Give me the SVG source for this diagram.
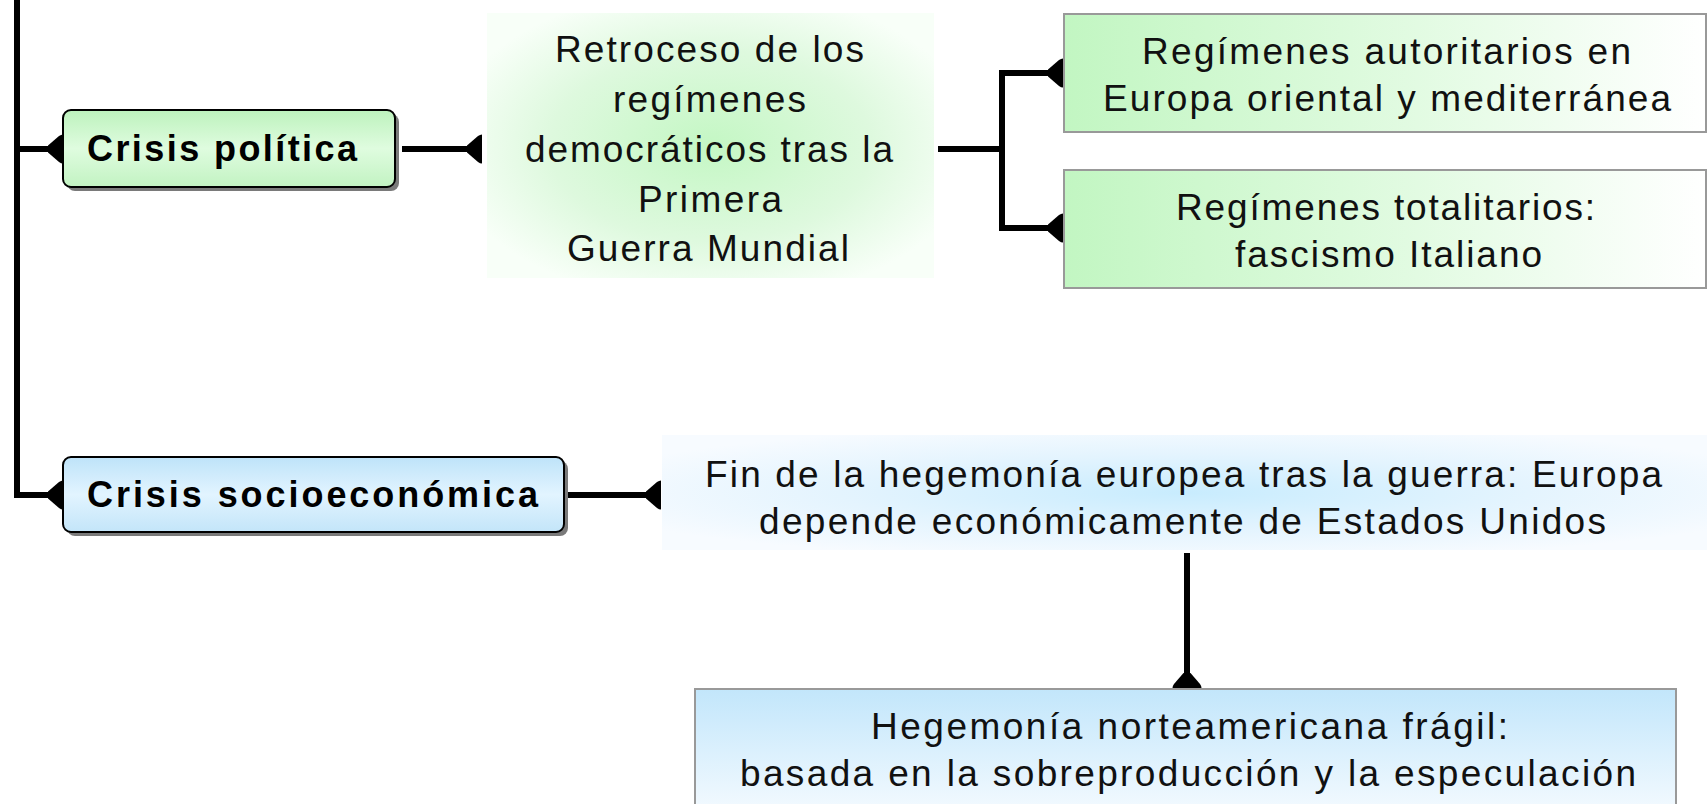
<svg xmlns="http://www.w3.org/2000/svg" width="1707" height="804" viewBox="0 0 1707 804">
<style>
.t{font-family:"Liberation Sans",Arial,sans-serif;font-size:37px;fill:#111}
.b{font-family:"Liberation Sans",Arial,sans-serif;font-size:36px;font-weight:bold;fill:#000}
.c{fill:none;stroke:#000;stroke-width:6;stroke-linejoin:miter}
.rb{stroke:#000;stroke-width:2}
.sq{stroke:#999;stroke-width:2}
.sh{fill:#7a7a7a}
</style>
<defs>
<marker id="foot" markerUnits="userSpaceOnUse" markerWidth="16" markerHeight="30" viewBox="0 -15 16 30" refX="15" refY="0" orient="auto" overflow="visible">
<path d="M0,-3.5 L11,-13 Q13,-14.5 15,-14.5 L15,14.5 Q13,14.5 11,13 L0,3.5 Z" fill="#000"/>
</marker>
<linearGradient id="gGreenV" x1="0" y1="0" x2="0" y2="1">
<stop offset="0" stop-color="#bdf2bd"/><stop offset="0.5" stop-color="#dffcdf"/><stop offset="1" stop-color="#c2f3c2"/>
</linearGradient>
<linearGradient id="gBlueV" x1="0" y1="0" x2="0" y2="1">
<stop offset="0" stop-color="#bee3f9"/><stop offset="0.5" stop-color="#e2f4ff"/><stop offset="1" stop-color="#c3e5f9"/>
</linearGradient>
<linearGradient id="gGreenH" x1="0" y1="0" x2="1" y2="0">
<stop offset="0" stop-color="#c2f6c2"/><stop offset="0.55" stop-color="#e2fbe2"/><stop offset="1" stop-color="#ffffff"/>
</linearGradient>
<linearGradient id="gBlueDown" x1="0" y1="0" x2="0" y2="1">
<stop offset="0" stop-color="#c2e6fb"/><stop offset="1" stop-color="#f6fbff"/>
</linearGradient>
<radialGradient id="gGreenR" cx="0.5" cy="0.5" r="0.6">
<stop offset="0" stop-color="#c4f7c4"/><stop offset="0.6" stop-color="#def9de"/><stop offset="1" stop-color="#f8fff8"/>
</radialGradient>
<radialGradient id="gBlueR" cx="0.5" cy="0.5" r="0.6">
<stop offset="0" stop-color="#c8ecfe"/><stop offset="0.55" stop-color="#e4f4fe"/><stop offset="1" stop-color="#f7fbff"/>
</radialGradient>
</defs>
<rect width="1707" height="804" fill="#fff"/>

<g id="connectors">
<path class="c" d="M17,0 V495 H63" marker-end="url(#foot)"/>
<path class="c" d="M17,149 H63" marker-end="url(#foot)"/>
<path class="c" d="M402,149 H482" marker-end="url(#foot)"/>
<path class="c" d="M938,149 H1002 V73 H1063" marker-end="url(#foot)"/>
<path class="c" d="M1002,149 V228 H1063" marker-end="url(#foot)"/>
<path class="c" d="M567,495 H661" marker-end="url(#foot)"/>
<path class="c" d="M1187,553 V688" marker-end="url(#foot)"/>
</g>

<g id="crisis-politica">
<rect class="sh" x="67" y="114" width="332" height="77" rx="8"/>
<rect class="rb" x="63" y="110" width="332" height="77" rx="8" fill="url(#gGreenV)"/>
<text class="b" x="87" y="161" textLength="270" lengthAdjust="spacing">Crisis política</text>
</g>

<g id="retroceso">
<rect x="487" y="13" width="447" height="265" fill="url(#gGreenR)"/>
<text class="t" x="555" y="62" textLength="309" lengthAdjust="spacing">Retroceso de los</text>
<text class="t" x="613" y="112" textLength="193" lengthAdjust="spacing">regímenes</text>
<text class="t" x="525" y="162" textLength="368" lengthAdjust="spacing">democráticos tras la</text>
<text class="t" x="638" y="212" textLength="144" lengthAdjust="spacing">Primera</text>
<text class="t" x="567" y="261" textLength="282" lengthAdjust="spacing">Guerra Mundial</text>
</g>

<g id="autoritarios">
<rect class="sq" x="1064" y="14" width="642" height="118" fill="url(#gGreenH)"/>
<text class="t" x="1142" y="64" textLength="489" lengthAdjust="spacing">Regímenes autoritarios en</text>
<text class="t" x="1103" y="111" textLength="568" lengthAdjust="spacing">Europa oriental y mediterránea</text>
</g>

<g id="totalitarios">
<rect class="sq" x="1064" y="170" width="642" height="118" fill="url(#gGreenH)"/>
<text class="t" x="1176" y="220" textLength="419" lengthAdjust="spacing">Regímenes totalitarios:</text>
<text class="t" x="1235" y="267" textLength="307" lengthAdjust="spacing">fascismo Italiano</text>
</g>

<g id="crisis-socioeconomica">
<rect class="sh" x="67" y="461" width="501" height="75" rx="8"/>
<rect class="rb" x="63" y="457" width="501" height="75" rx="8" fill="url(#gBlueV)"/>
<text class="b" x="87" y="507" textLength="451" lengthAdjust="spacing">Crisis socioeconómica</text>
</g>

<g id="fin-hegemonia">
<rect x="662" y="435" width="1045" height="115" fill="url(#gBlueR)"/>
<text class="t" x="705" y="487" textLength="957" lengthAdjust="spacing">Fin de la hegemonía europea tras la guerra: Europa</text>
<text class="t" x="759" y="534" textLength="847" lengthAdjust="spacing">depende económicamente de Estados Unidos</text>
</g>

<g id="hegemonia-norteamericana">
<rect class="sq" x="695" y="689" width="981" height="130" fill="url(#gBlueDown)"/>
<text class="t" x="871" y="739" textLength="637" lengthAdjust="spacing">Hegemonía norteamericana frágil:</text>
<text class="t" x="740" y="786" textLength="896" lengthAdjust="spacing">basada en la sobreproducción y la especulación</text>
</g>
</svg>
